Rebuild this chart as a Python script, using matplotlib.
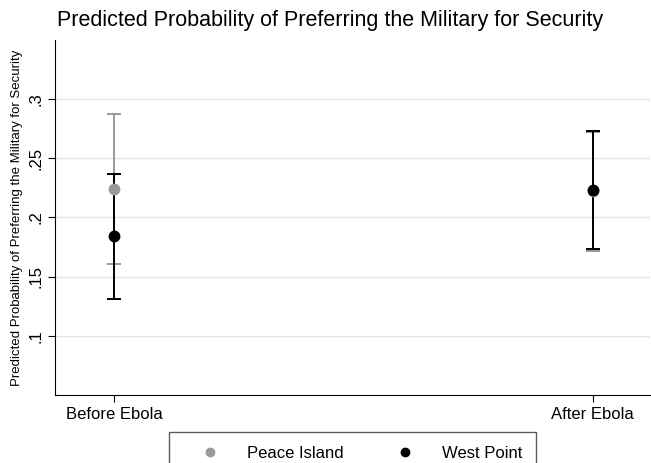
import numpy as np
import matplotlib.pyplot as plt
from matplotlib.lines import Line2D

# ----------- data
periods = ['Before Ebola', 'After Ebola']
groups = ['Peace Island', 'West Point']
colors = ['#999999', '#000000']
est = {'Peace Island': [0.224, 0.222], 'West Point': [0.184, 0.223]}
lo = {'Peace Island': [0.161, 0.172], 'West Point': [0.131, 0.173]}
hi = {'Peace Island': [0.287, 0.272], 'West Point': [0.237, 0.273]}
yticks = [0.1, 0.15, 0.2, 0.25, 0.3]
yticklabels = ['.1', '.15', '.2', '.25', '.3']

plt.rcParams['font.family'] = ['Liberation Sans', 'DejaVu Sans']

fig = plt.figure(figsize=(6.51, 4.63), dpi=100)
ax = fig.add_axes([0.0845, 0.147, 0.914, 0.767])

x = np.arange(1, len(periods) + 1)
handles = []
for g, c in zip(groups, colors):
    m = np.array(est[g])
    err = np.vstack((m - np.array(lo[g]), np.array(hi[g]) - m))
    ax.errorbar(x, m, yerr=err, fmt='o', color=c, ecolor=c, elinewidth=1.4,
                capsize=5, capthick=1.4, markersize=7.5)
    handles.append(Line2D([], [], marker='o', linestyle='none', color=c,
                          markersize=6, label=g))

ax.set_xlim(0.877, 2.12)
ax.set_ylim(0.05, 0.35)
ax.set_xticks(x)
ax.set_xticklabels(periods, fontsize=12)
ax.set_yticks(yticks)
ax.set_yticklabels(yticklabels, fontsize=12, rotation=90, va='center')
ax.grid(axis='y', color='#dde6ee', linewidth=1)
ax.set_axisbelow(True)
for s in ['top', 'right']:
    ax.spines[s].set_visible(False)
ax.tick_params(direction='out', length=5)
ax.set_ylabel('Predicted Probability of Preferring the Military for Security', fontsize=9.5)
ax.set_title('Predicted Probability of Preferring the Military for Security',
             fontsize=15.5, loc='left', x=0.003, pad=10)

leg = ax.legend(handles=handles, loc='upper center', bbox_to_anchor=(0.5, -0.082), ncol=2,
                frameon=True, fancybox=False, edgecolor='#333333', fontsize=12,
                handletextpad=0.6, columnspacing=2.0, borderpad=0.8,
                handlelength=3.3)
leg.get_frame().set_linewidth(1)

fig.savefig('out.png', dpi=100)
